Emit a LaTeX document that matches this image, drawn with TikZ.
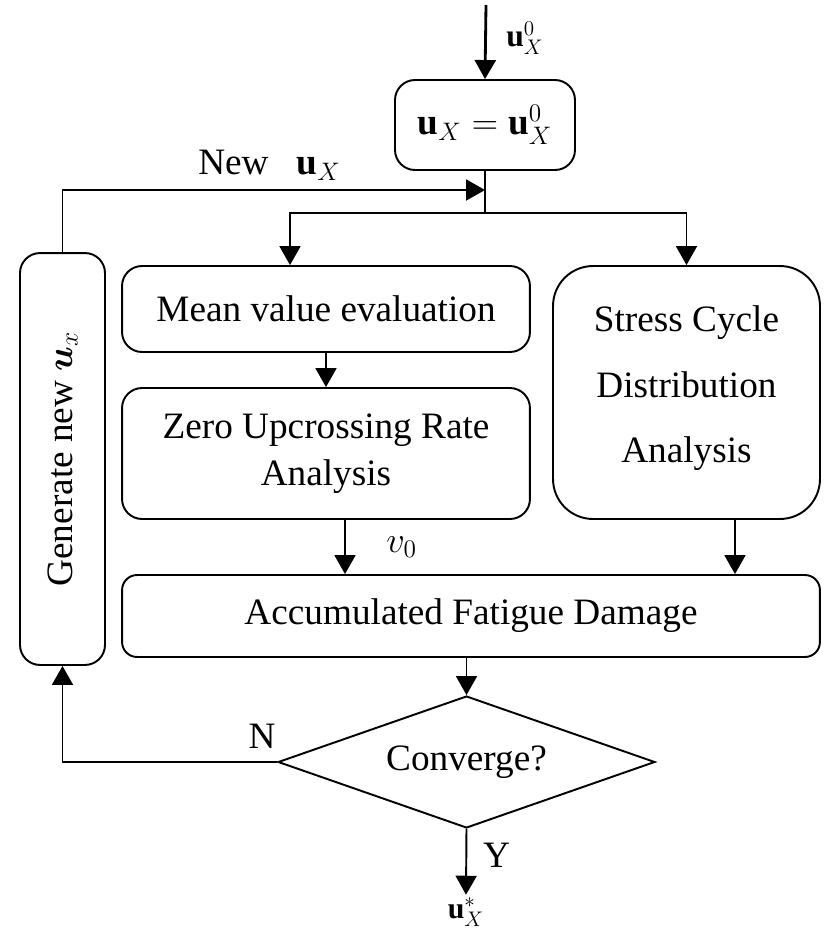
\documentclass[tikz,border=0pt]{standalone}
\usepackage{fontspec}
\setmainfont{Liberation Serif}
\usepackage{amsmath}
\usetikzlibrary{arrows.meta,positioning,shapes.geometric}

\begin{document}
\begin{tikzpicture}[x=0.02cm,y=-0.02cm,>={Triangle[length=3.8mm,width=4.2mm]},
   line width=1.1pt,font=\fontsize{21.2}{26.5}\selectfont,
   blk/.style={draw,rounded corners=4mm,align=center,inner sep=2pt},
   dec/.style={draw,diamond,aspect=2.86,inner sep=0pt,minimum width=7.54cm,minimum height=2.64cm},
   lab/.style={inner sep=1pt}]
  \useasboundingbox (0,0) rectangle (834,934);
  % boxes
  \node[blk,minimum width=3.6cm,minimum height=1.8cm] (init) at (485,125) {$\mathbf{u}_X=\mathbf{u}_X^0$};
  \node[blk,minimum width=8.16cm,minimum height=1.72cm] (mean) at (326,309) {Mean value evaluation};
  \node[blk,minimum width=8.16cm,minimum height=2.62cm] (zero) at (326,453.5) {Zero Upcrossing Rate\\Analysis};
  \node[blk,rounded corners=8mm,minimum width=5.34cm,minimum height=5.06cm] (stress) at (686.5,392.5)
     {Stress Cycle\\[11pt]Distribution\\[11pt]Analysis\\[-17pt]};
  \node[blk,rounded corners=3mm,minimum width=13.96cm,minimum height=1.64cm] (acc) at (471,616) {Accumulated Fatigue Damage};
  \node[dec] (conv) at (466.5,762) {Converge?};
  \node[blk,rotate=90,minimum width=8.24cm,minimum height=1.7cm] (gen) at (62.5,459) {Generate new $\boldsymbol{u}_x$};
  \node[lab,font=\fontsize{17}{20}\selectfont] (out) at (466,912) {$\mathbf{u}_X^{*}$};
  % junctions
  \coordinate (in) at (486,5);
  \coordinate (jn) at (485,190);
  \coordinate (j1) at (485,213);
  \coordinate (jl) at (290,213);
  % connectors
  \draw[->,line width=1.6pt] (in) -- (init.north)
     node[lab,pos=0.45,right=10pt,font=\fontsize{18}{20}\selectfont]{$\mathbf{u}_X^0$};
  \draw (init.south) -- (j1);
  \draw[->] (gen.east) |- (jn) node[lab,pos=0.745,above=4pt]{New \ \ $\mathbf{u}_X$};
  \draw[->] (j1) -- (jl) -- (jl |- mean.north);
  \draw[->] (j1) -| (stress.north);
  \draw[->] (mean) -- (zero);
  \draw[->] ([xshift=0.38cm]zero.south) -- ([xshift=0.38cm]zero.south |- acc.north)
     node[lab,midway,right=22pt]{$v_0$};
  \draw[->] ([xshift=0.97cm]stress.south) -- ([xshift=0.97cm]stress.south |- acc.north);
  \draw[->] (conv.north |- acc.south) -- (conv.north);
  \draw[->] (conv.west) -| (gen.west) node[lab,pos=0.035,above=6pt]{N};
  \draw[->] (conv.south) -- (out.north) node[lab,pos=0.4,right=8pt]{Y};
\end{tikzpicture}
\end{document}
